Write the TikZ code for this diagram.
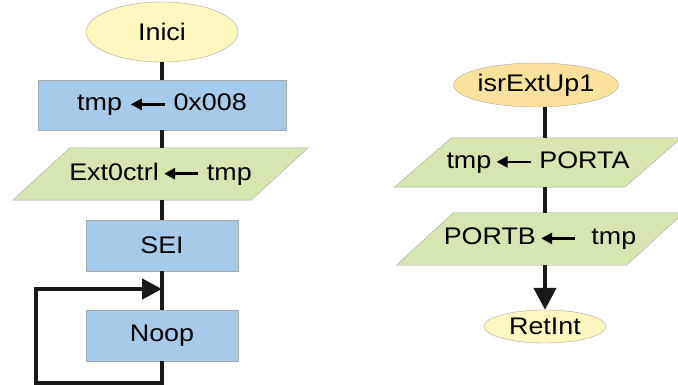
\documentclass[tikz,border=0pt]{standalone}
\usepackage{fontspec}
\setmainfont{Liberation Sans}[FakeStretch=1.12]
\usetikzlibrary{shapes.geometric,arrows.meta,backgrounds,calc}
\definecolor{startfill}{HTML}{FFF6C0}
\definecolor{isrfill}{HTML}{FBE29C}
\definecolor{boxfill}{HTML}{A6CAEA}
\definecolor{iofill}{HTML}{D5E6B0}
\definecolor{edgegray}{HTML}{A8A8A8}
% the assignment arrow inside the boxes
\newcommand\larr{\raisebox{1pt}{\tikz
  \draw[line width=2.6pt,-{Triangle[length=11pt,width=11pt]}] (34pt,0pt) -- (0pt,0pt);}}
\begin{document}
\begin{tikzpicture}[x=1pt,y=-1pt,
  every node/.style={font=\fontsize{24}{28}\selectfont, inner sep=0pt},
  term/.style={draw=edgegray, ellipse, fill=startfill},
  proc/.style={draw=edgegray, rectangle, fill=boxfill, minimum height=51},
  io/.style={rectangle, minimum height=52},
  ioshape/.style={draw=edgegray, fill=iofill},
  flow/.style={line width=4.5pt, black!90}]
\useasboundingbox (0,0) rectangle (678,385);
\begin{scope}
\node[term, minimum width=152, minimum height=60] (inici) at (162,32) {Inici};
\node[proc, minimum width=248, minimum height=50] (set) at (162,105) {tmp \larr{} 0x008};
\node[io, minimum width=238] (ext) at (160.5,174) {Ext0ctrl\,\larr\ tmp};
\node[proc, minimum width=152] (sei) at (162,245.5) {SEI};
\node[proc, minimum width=152] (noop) at (162,335.5) {Noop};
\coordinate (join) at (162,289);
\coordinate (loopbl) at (36,383);
\path[draw,flow] (inici) -- (set);
\path[draw,flow] (set) -- (ext.north -| set);
\path[draw,flow] (ext.south -| sei) -- (sei);
\path[draw,flow] (sei) -- (noop);
\path[draw,flow,-{Triangle[length=20pt,width=20pt]}] (noop.south) |- (loopbl) |- (join);
\end{scope}
\begin{scope}
\node[term, fill=isrfill, minimum width=152, minimum height=44] (isr) at (536,85) {isrExtUp1};
\node[io, minimum width=230, minimum height=49] (porta) at (538,162.5) {tmp\,\larr\ PORTA};
\node[io, minimum width=230] (portb) at (540,239) {PORTB\,\larr\ \ tmp};
\node[term, minimum width=122, minimum height=33] (ret) at (545,326.5) {RetInt};
\path[draw,flow] (isr.south -| ret) -- (porta.north -| ret);
\path[draw,flow] (porta.south -| ret) -- (portb.north -| ret);
\path[draw,flow,-{Triangle[length=22pt,width=22pt]}] (portb.south -| ret) -- (ret);
\end{scope}
% the slanted input/output boxes go behind their texts
\begin{scope}[on background layer]
\foreach \n in {ext,porta,portb}
  \path[ioshape] ($(\n.north west)+(28.5,0)$) -- ($(\n.north east)+(28.5,0)$)
    -- ($(\n.south east)-(28.5,0)$) -- ($(\n.south west)-(28.5,0)$) -- cycle;
\end{scope}
\end{tikzpicture}
\end{document}
